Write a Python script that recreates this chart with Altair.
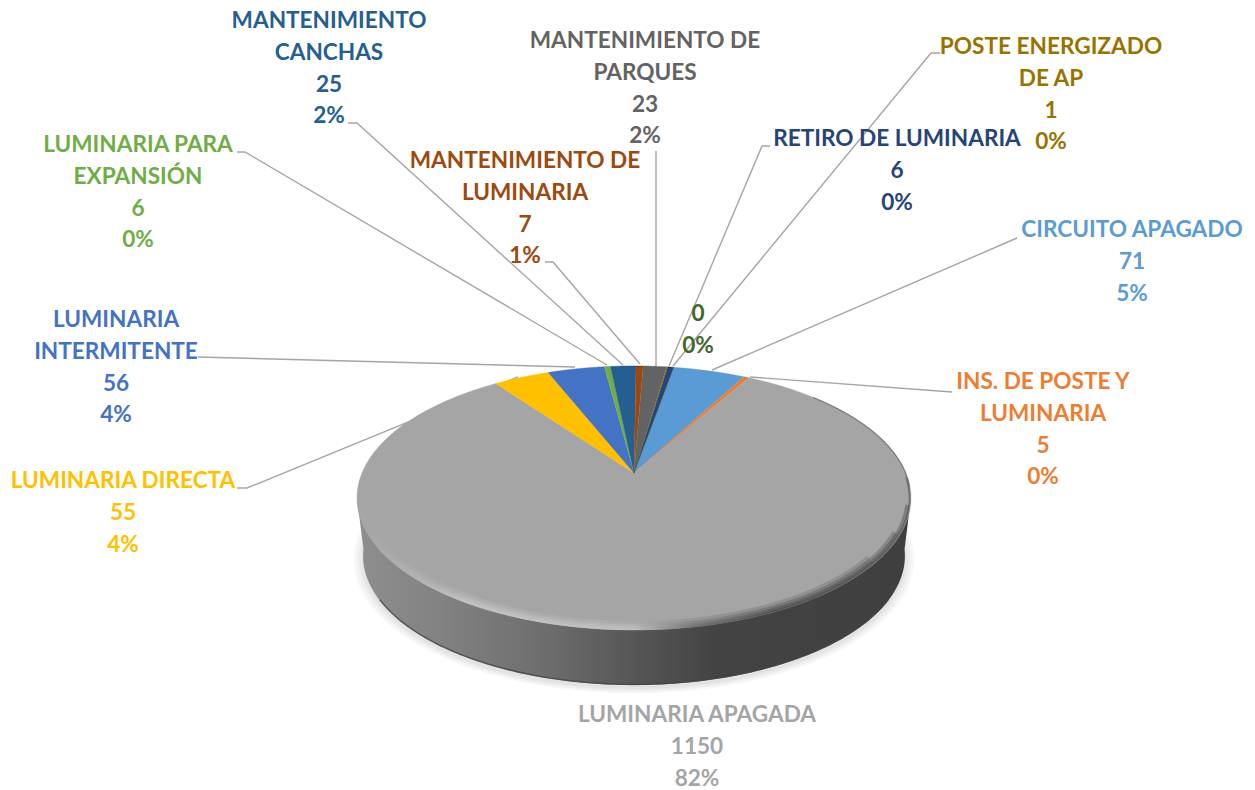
import altair as alt
import pandas as pd

# ---------- data ----------
NAMES = ["CIRCUITO APAGADO", "INS. DE POSTE Y LUMINARIA", "LUMINARIA APAGADA", "LUMINARIA DIRECTA",
         "LUMINARIA INTERMITENTE", "LUMINARIA PARA EXPANSIÓN", "MANTENIMIENTO CANCHAS",
         "MANTENIMIENTO DE LUMINARIA", "MANTENIMIENTO DE PARQUES", "POSTE ENERGIZADO DE AP",
         "RETIRO DE LUMINARIA", "SIN CLASIFICAR"]
VALUES = [71, 5, 1150, 55, 56, 6, 25, 7, 23, 1, 6, 0]
PERCENTS = ["5%", "0%", "82%", "4%", "4%", "0%", "2%", "1%", "2%", "0%", "0%", "0%"]
NAME_LINES = [["CIRCUITO APAGADO"], ["INS. DE POSTE Y", "LUMINARIA"], ["LUMINARIA APAGADA"], ["LUMINARIA DIRECTA"],
              ["LUMINARIA", "INTERMITENTE"], ["LUMINARIA PARA", "EXPANSIÓN"], ["MANTENIMIENTO", "CANCHAS"],
              ["MANTENIMIENTO DE", "LUMINARIA"], ["MANTENIMIENTO DE", "PARQUES"], ["POSTE ENERGIZADO", "DE AP"],
              ["RETIRO DE LUMINARIA"], []]
COLORS = ["#5B9BD5", "#ED7D31", "#A5A5A5", "#FFC000", "#4472C4", "#70AD47",
          "#255E91", "#9E480E", "#636363", "#997300", "#264478", "#43682B"]

# ---------- layout (pixel positions of the picture) ----------
W, H = 1239, 781
OFF = 8
LABEL_POS = [(1132, 230), (1043, 382), (697, 715), (123, 481), (116, 320), (138, 145), (329, 21),
             (525, 161), (645, 41), (1051, 47), (897, 139), (698, 314)]
LINE_STEP = 31.8
LEADERS = [
    [(1017, 238), (712, 370)],
    [(952, 392), (750, 377)],
    [(237, 488), (247, 488), (518, 377)],
    [(198, 357), (575, 367)],
    [(237, 152), (245, 152), (607, 365)],
    [(348, 123), (357, 123), (623, 365)],
    [(545, 262), (553, 262), (640, 364)],
    [(656, 151), (656, 366)],
    [(770, 146), (762, 146), (669, 366)],
    [(940, 53), (931, 53), (673, 366)],
]
FONT = "Lato"
FONT_SIZE = 22.6
START = 10
CX, CY = 634 - OFF, 473 - OFF
R, C, K = 272, 127.3, 0.189
CY_B = 531.5 - OFF
S_B = 0.978
N = 180

X = alt.X("px:Q", scale=alt.Scale(domain=[0, W], range=[0, W]), axis=None)
Y = alt.Y("py:Q", scale=alt.Scale(domain=[0, H], range=[0, H]), axis=None)


def rim(a, s, cy):
    w = f"(1+{K}*cos(({a})*PI/180))"
    return (f"{CX}+{s}*{R}*sin(({a})*PI/180)/{w}", f"{cy}-{s}*{C}*cos(({a})*PI/180)/{w}")


def arc_chart(a0, a1, s, cy):
    """Points along a part of a rim, with i running from 0 to N."""
    a = f"{a0}+({a1}-{a0})*datum.i/{N}"
    px, py = rim(a, s, cy)
    return (alt.Chart(alt.Data(values=[{"k": 0}]))
            .transform_calculate(i=f"sequence(0,{N + 1})")
            .transform_flatten(["i"])
            .transform_calculate(px=px, py=py))


enc = dict(x=X, y=Y, order=alt.Order("i:Q"))

# soft shadow round the base
shadow = []
for s in (1.035, 1.025, 1.015, 1.006):
    shadow.append(arc_chart(0, 360, s * S_B, CY_B + 3)
                  .mark_line(fill="#000000", fillOpacity=0.028, strokeOpacity=0, interpolate="linear")
                  .encode(**enc))

# leader lines
lead_rows = [{"g": g, "i": i, "px": p[0] - OFF, "py": p[1] - OFF}
             for g, pts in enumerate(LEADERS) for i, p in enumerate(pts)]
leaders = (alt.Chart(pd.DataFrame(lead_rows))
           .mark_line(stroke="#A5A5A5", strokeWidth=1.4)
           .encode(detail="g:N", **enc))

# side wall
wall_grad = alt.LinearGradient(gradient="linear", x1=0, x2=1, y1=0, y2=0, stops=[
    alt.GradientStop(offset=0, color="#8E8E8E"),
    alt.GradientStop(offset=0.15, color="#828282"),
    alt.GradientStop(offset=0.35, color="#6C6C6C"),
    alt.GradientStop(offset=0.5, color="#565656"),
    alt.GradientStop(offset=0.65, color="#434343"),
    alt.GradientStop(offset=1, color="#3F3F3F")])
a_wall = f"98+(262-98)*(datum.i-1)/{N - 2}"
wx_t, wy_t = rim("datum.i==0?101:259", 1, CY)
wx_b, wy_b = rim(a_wall, S_B, CY_B)
wall = (alt.Chart(alt.Data(values=[{"k": 0}]))
        .transform_calculate(i=f"sequence(0,{N + 1})")
        .transform_flatten(["i"])
        .transform_calculate(px=f"(datum.i==0||datum.i=={N})?({wx_t}):({wx_b})",
                             py=f"(datum.i==0||datum.i=={N})?({wy_t}):({wy_b})")
        .mark_line(fill=wall_grad, stroke="#3F3F3F", strokeOpacity=0)
        .encode(**enc))
wall_edge = (arc_chart(120, 240, S_B * 0.999, CY_B - 0.5)
             .mark_line(stroke="#444444", strokeWidth=1.6, strokeOpacity=0.7)
             .encode(**enc))

# slices
table = pd.DataFrame({"idx": range(len(VALUES)), "name": NAMES, "value": VALUES, "color": COLORS})
a_s = f"datum.a0+(datum.a1-datum.a0)*(datum.i-1)/{N}"
sx, sy = rim(a_s, 1, CY)
slices = (alt.Chart(table)
          .transform_joinaggregate(total="sum(value)")
          .transform_window(cum="sum(value)", sort=[alt.SortField("idx", order="ascending")])
          .transform_calculate(a0=f"(datum.cum-datum.value)/datum.total*360+{START}",
                               a1=f"datum.cum/datum.total*360+{START}")
          .transform_calculate(i=f"sequence(0,{N + 2})")
          .transform_flatten(["i"])
          .transform_calculate(px=f"datum.i==0?{CX}:({sx})", py=f"datum.i==0?{CY}:({sy})")
          .mark_line(strokeWidth=0.4, interpolate="linear")
          .encode(detail="idx:N",
                  fill=alt.Fill("color:N", scale=None, legend=None),
                  stroke=alt.Stroke("color:N", scale=None, legend=None),
                  **enc))


# bevel on the rim
def bevel_grad(op):
    return alt.LinearGradient(gradient="linear", x1=0, x2=1, y1=0, y2=0, stops=[
        alt.GradientStop(offset=0, color=f"rgba(165,165,165,{op})"),
        alt.GradientStop(offset=0.2, color=f"rgba(200,200,200,{op})"),
        alt.GradientStop(offset=0.5, color=f"rgba(195,195,195,{op})"),
        alt.GradientStop(offset=0.62, color=f"rgba(105,105,105,{op})"),
        alt.GradientStop(offset=0.75, color=f"rgba(70,70,70,{op})"),
        alt.GradientStop(offset=1, color=f"rgba(70,70,70,{op})")])


bevels = []
for s, sw, op, a0, a1 in ((0.972, 9, 0.22, 128, 238), (0.98, 6, 0.32, 116, 250),
                          (0.988, 4, 0.42, 104, 262), (0.995, 2, 0.55, 92, 272)):
    bevels.append(arc_chart(a0, a1, s, CY)
                  .mark_line(stroke=bevel_grad(op), strokeWidth=sw)
                  .encode(**enc))
edge_top = (arc_chart(48, 96, 0.998, CY)
            .mark_line(stroke="#6A6A6A", strokeWidth=1.2, strokeOpacity=0.7)
            .encode(**enc))

# labels
label_rows = []
for name_lines, value, pct, color, (lx, ly) in zip(NAME_LINES, VALUES, PERCENTS, COLORS, LABEL_POS):
    for j, line in enumerate(list(name_lines) + [str(value), pct]):
        label_rows.append({"txt": line, "px": lx - OFF, "py": ly - OFF + j * LINE_STEP, "color": color})
labels = (alt.Chart(pd.DataFrame(label_rows))
          .mark_text(font=FONT, fontWeight="bold", fontSize=FONT_SIZE, align="center", baseline="middle")
          .encode(x=X, y=Y, text="txt:N", color=alt.Color("color:N", scale=None, legend=None)))

chart = (alt.layer(*shadow, leaders, wall, wall_edge, slices, *bevels, edge_top, labels)
         .properties(width=W, height=H, padding=0, autosize=alt.AutoSizeParams(type="none"))
         .configure_view(stroke=None))

chart.save("out.html", embed_options={"renderer": "svg", "actions": False})
